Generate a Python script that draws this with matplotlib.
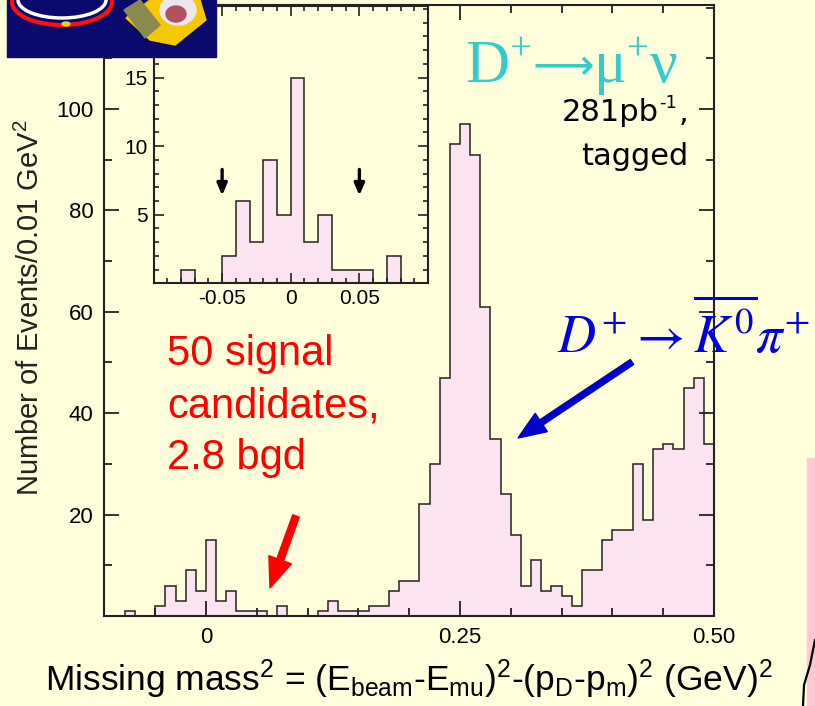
import numpy as np
import matplotlib
matplotlib.use("Agg")
import matplotlib.pyplot as plt
from matplotlib.patches import Rectangle, Ellipse, Polygon, FancyArrow
from matplotlib.ticker import MultipleLocator, FixedLocator, FixedFormatter

plt.rcParams['font.family'] = ['Liberation Sans', 'DejaVu Sans']
plt.rcParams['mathtext.fontset'] = 'custom'
plt.rcParams['mathtext.rm'] = 'Liberation Sans'
plt.rcParams['mathtext.it'] = 'Liberation Sans:italic'

# ---------------- data (events per 0.01 GeV^2 bin) ----------------
bin_lo = -0.10
bin_width = 0.01
counts = [0, 0, 1, 0, 0, 2, 6, 3, 9, 5,          # -0.10 .. -0.01
          15, 3, 5, 1, 1, 1, 0, 2, 0, 0,         # 0.00 .. 0.09
          0, 1, 3, 1, 1, 1, 2, 2, 5, 7,          # 0.10 .. 0.19
          7, 22, 30, 47, 93, 97, 91, 61, 35, 24, # 0.20 .. 0.29
          16, 6, 11, 5, 6, 4, 2, 9, 9, 15,       # 0.30 .. 0.39
          17, 17, 30, 19, 33, 34, 33, 45, 47, 34]  # 0.40 .. 0.49
inset_counts = [0, 0, 1, 0, 0, 2, 6, 3, 9, 5,
                15, 3, 5, 1, 1, 1, 0, 2, 0, 0]
main_xticks = [0, 0.25, 0.50]
main_xticklabels = ['0', '0.25', '0.50']
main_yticks = [20, 40, 60, 80, 100]
inset_xticks = [-0.05, 0, 0.05]
inset_xticklabels = ['-0.05', '0', '0.05']
inset_yticks = [5, 10, 15]
cut_positions = [-0.05, 0.05]
red_lines = ['50 signal', 'candidates,', '2.8 bgd']
# title pieces: (text, kind)  kind: 'n' normal, 's' superscript, 'a' arrow
title_pieces = [('D', 'n'), ('+', 's'), ('\u27f6', 'a'), ('\u03bc', 'n'), ('+', 's'), ('\u03bd', 'n')]

edges = bin_lo + bin_width * np.arange(len(counts) + 1)
inset_edges = bin_lo + bin_width * np.arange(len(inset_counts) + 1)

BG = '#FFFFDC'
PINK = '#FBE4EF'
EDGE = '#222222'

W, H = 815, 706
fig = plt.figure(figsize=(W / 100, H / 100), dpi=100, facecolor=BG)
renderer = fig.canvas.get_renderer()

def px_axes(x0, y0, x1, y1, **kw):
    return fig.add_axes([x0 / W, 1 - y1 / H, (x1 - x0) / W, (y1 - y0) / H], **kw)

# ---------------- main axes ----------------
ax = px_axes(104.4, 5, 714, 616)
ax.set_facecolor(BG)
ax.stairs(counts, edges, fill=True, color=PINK, zorder=1)
ax.stairs(counts, edges, color=EDGE, lw=1.1, zorder=2)
ax.set_xlim(-0.1, 0.5)
ax.set_ylim(0, 120.5)
ax.xaxis.set_major_locator(FixedLocator(main_xticks))
ax.xaxis.set_major_formatter(FixedFormatter(main_xticklabels))
ax.xaxis.set_minor_locator(MultipleLocator(0.05))
ax.yaxis.set_major_locator(FixedLocator(main_yticks))
ax.yaxis.set_minor_locator(MultipleLocator(10))
ax.tick_params(which='both', direction='in', top=True, right=True, color=EDGE, width=1.3)
ax.tick_params(which='major', length=11, labelsize=16, pad=8)
ax.tick_params(which='minor', length=5.5)
for s in ax.spines.values():
    s.set_linewidth(1.5)
    s.set_color(EDGE)
ax.set_ylabel(r'Number of Events/0.01 GeV$^{\mathregular{2}}$', fontsize=21, labelpad=2, color='#222222')
ax.yaxis.set_label_coords(-0.097, 0.505)
ax.set_xlabel(r'Missing mass$^{\mathregular{2}}$ = (E$_{\mathregular{beam}}$-E$_{\mathregular{mu}}$)$^{\mathregular{2}}$'
              r'-(p$_{\mathregular{D}}$-p$_{\mathregular{m}}$)$^{\mathregular{2}}$ (GeV)$^{\mathregular{2}}$',
              fontsize=25.5, labelpad=6)
ax.xaxis.set_label_coords(0.5, -0.068)
ax.xaxis.label.set_va('top')

# ---------------- inset ----------------
ins = px_axes(153.5, 5.5, 428, 283.3)
ins.set_facecolor(BG)
ins.stairs(inset_counts, inset_edges, fill=True, color=PINK, zorder=1)
ins.stairs(inset_counts, inset_edges, color=EDGE, lw=1.1, zorder=2)
ins.set_xlim(-0.1, 0.1)
ins.set_ylim(0, 20.25)
ins.xaxis.set_major_locator(FixedLocator(inset_xticks))
ins.xaxis.set_major_formatter(FixedFormatter(inset_xticklabels))
ins.xaxis.set_minor_locator(MultipleLocator(0.01))
ins.yaxis.set_major_locator(FixedLocator(inset_yticks))
ins.yaxis.set_minor_locator(MultipleLocator(1))
ins.tick_params(which='both', direction='in', top=True, right=True, color=EDGE, width=1.2)
ins.tick_params(which='major', length=7, labelsize=15, pad=4)
ins.tick_params(which='minor', length=3.5)
for s in ins.spines.values():
    s.set_linewidth(1.5)
    s.set_color(EDGE)
for xc in cut_positions:
    ins.annotate('', xy=(xc, 6.2), xytext=(xc, 8.5),
                 arrowprops=dict(arrowstyle='-|>,head_length=0.7,head_width=0.3', color='black', lw=2.4))

# ---------------- annotations ----------------
# cyan title, built piece by piece in a serif face with upright Greek
x_cur = 465.0
piece_style = {'n': (44, 82, ['Liberation Serif', 'DejaVu Serif']),
               's': (28, 60, ['Liberation Serif', 'DejaVu Serif']),
               'a': (31, 79, ['DejaVu Sans'])}
for txt, kind in title_pieces:
    size, base, fam = piece_style[kind]
    t = fig.text(x_cur / W, 1 - base / H, txt, fontsize=size, color='#33CCCC', ha='left',
                 va='baseline', family=fam)
    bb = t.get_window_extent(renderer)
    x_cur = bb.x1 + (1 if kind == 's' else 0)

comma = fig.text(688 / W, 1 - 121 / H, ',', fontsize=22, ha='right', va='baseline', family='DejaVu Sans')
bb = comma.get_window_extent(renderer)
sup = fig.text((bb.x0 - 1) / W, 1 - 108 / H, '-1', fontsize=13, ha='right', va='baseline',
               family='DejaVu Sans')
bb2 = sup.get_window_extent(renderer)
fig.text((bb2.x0 - 1) / W, 1 - 121 / H, '281pb', fontsize=22, ha='right', va='baseline',
         family='DejaVu Sans')
fig.text(688 / W, 1 - 165 / H, 'tagged', fontsize=22, ha='right', va='baseline', family='DejaVu Sans')

for line, base in zip(red_lines, [365, 417, 469]):
    fig.text(167 / W, 1 - base / H, line, fontsize=30, color='#FF0000', ha='left', va='baseline')

fig.text(557 / W, 1 - 353 / H, r'$D^{+}\rightarrow\overline{K^{0}}\pi^{+}$', fontsize=38,
         color='#0000E6', ha='left', va='baseline', math_fontfamily='stix')

# arrows in figure pixel coords
over = fig.add_axes([0, 0, 1, 1], facecolor='none')
over.set_xlim(0, W)
over.set_ylim(H, 0)
over.axis('off')
over.add_patch(FancyArrow(296, 516, 270 - 296, 588 - 516, width=7, head_width=24, head_length=30,
                          length_includes_head=True, color='#FF0000'))
over.add_patch(FancyArrow(632, 362, 518 - 632, 438 - 362, width=6, head_width=22, head_length=28,
                          length_includes_head=True, color='#0000CC'))

# logo block (top left)
over.add_patch(Rectangle((7, 0), 209, 57, color='#0A0A6E', zorder=5))
over.add_patch(Ellipse((62, 2), 100, 46, fill=False, ec='#FF1010', lw=3, zorder=6))
over.add_patch(Ellipse((62, 0), 88, 36, fill=False, ec='white', lw=2.5, zorder=6))
over.add_patch(Ellipse((66, 24), 8, 4, color='#F0D020', zorder=7))
over.add_patch(Polygon([(126, 18), (150, 0), (200, 0), (206, 20), (175, 45), (150, 40)],
                       color='#F5C800', zorder=6))
over.add_patch(Polygon([(124, 10), (140, 0), (160, 25), (145, 38)], color='#8A8A50', zorder=7))
over.add_patch(Ellipse((178, 10), 36, 30, color='#EDE6EE', zorder=7))
over.add_patch(Ellipse((176, 14), 20, 16, color='#B05060', zorder=8))

# slide edge bits (right)
over.add_patch(Rectangle((807, 458), 10, 250, color='#FFC8D2', zorder=5))
over.plot([815, 810, 804, 803], [640, 665, 685, 706], color='black', lw=1.6, zorder=6)

fig.savefig('out.png', dpi=100, facecolor=BG)
